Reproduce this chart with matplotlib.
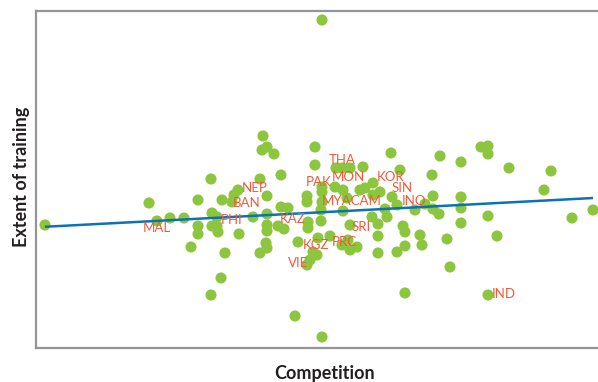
import numpy as np
import matplotlib
matplotlib.use("Agg")
import matplotlib.pyplot as plt

# Country scores: competition (x) vs extent of training (y)
competition = [
    0.9, 11.3, 12.1, 13.4, 14.8, 16.2, 16.2, 16.2, 15.5, 17.5,
    17.6, 18.1, 17.6, 18.1, 18.2, 18.9, 18.5, 17.5, 18.6, 19.6,
    19.8, 20.2, 20.3, 21.7, 22.4, 22.7, 23.1, 22.6, 23.8, 23.1,
    23.1, 23.1, 23.1, 23.0, 23.1, 22.4, 24.5, 24.5, 25.2, 24.2,
    24.8, 26.2, 25.9, 27.1, 27.1, 27.9, 27.9, 28.6, 28.6, 28.6,
    28.5, 28.5, 27.2, 27.2, 28.2, 29.4, 27.7, 28.1, 27.4, 27.1,
    30.6, 28.6, 28.6, 30.0, 30.6, 31.4, 32.7, 35.5, 36.4, 29.9,
    30.7, 32.4, 32.9, 33.7, 34.4, 33.7, 35.6, 31.1, 30.7, 31.4,
    33.6, 34.2, 35.1, 34.9, 34.2, 31.2, 32.1, 31.4, 34.2, 36.1,
    36.9, 38.6, 38.4, 36.9, 36.7, 36.1, 37.9, 38.9, 39.7, 39.7,
    40.3, 39.6, 40.4, 42.5, 42.5, 42.5, 42.5, 41.1, 41.4, 44.5,
    45.2, 45.2, 47.3, 51.5, 50.8, 45.2, 46.1, 53.6, 55.7, 36.9,
    45.2,
]
training = [
    12.3, 14.5, 12.7, 13.0, 13.0, 14.8, 12.2, 11.4, 10.1, 16.9,
    13.5, 13.1, 12.2, 12.2, 11.6, 9.5, 7.0, 5.3, 14.8, 14.6,
    15.3, 15.8, 11.4, 13.1, 16.9, 21.2, 20.1, 19.8, 19.4, 15.2,
    13.4, 12.3, 11.7, 10.5, 10.0, 9.5, 17.3, 14.1, 14.0, 12.2,
    11.9, 10.6, 3.2, 15.2, 14.6, 20.1, 18.3, 16.1, 15.6, 14.6,
    13.8, 12.7, 12.6, 12.0, 11.0, 11.2, 9.6, 9.3, 8.8, 8.3,
    10.3, 32.8, 1.1, 18.0, 18.0, 18.0, 18.1, 19.5, 17.8, 16.1,
    15.8, 15.8, 16.0, 16.5, 15.6, 15.3, 15.1, 15.0, 13.7, 12.3,
    13.1, 12.4, 13.1, 13.9, 11.2, 10.8, 10.1, 9.8, 9.5, 9.6,
    10.2, 10.3, 11.3, 11.6, 12.2, 14.3, 13.8, 14.4, 15.2, 13.9,
    13.4, 17.3, 19.2, 18.6, 15.1, 14.0, 12.5, 10.9, 8.1, 20.1,
    20.2, 19.4, 18.0, 17.7, 15.8, 13.2, 11.2, 13.0, 13.8, 5.5,
    5.3,
]

# Economy codes and where their tags sit
codes = ["THA", "MON", "PAK", "KOR", "SIN", "INO", "MYACAM", "SRI", "PRC",
         "KGZ", "VIE", "KAZ", "PHI", "BAN", "NEP", "MAL", "IND"]
code_x = [30.65, 31.2, 28.3, 35.5, 36.6, 37.8, 31.6, 32.5, 30.8,
          28.0, 26.2, 25.7, 19.6, 21.1, 21.9, 12.1, 46.8]
code_y = [18.8, 17.1, 16.6, 17.1, 16.0, 14.7, 14.7, 12.1, 10.6,
          10.3, 8.5, 12.9, 12.8, 14.5, 16.0, 12.0, 5.4]

GREEN = "#8cc63f"
BLUE = "#0a72b5"
RED = "#f15a3b"
GREY = "#939598"

W, H = 598, 382
fig = plt.figure(figsize=(W / 100, H / 100), dpi=100)
ax = fig.add_axes([36 / W, (H - 348) / H, (614 - 36) / W, (348 - 11) / H])
ax.set_xlim(0, 57.8)
ax.set_ylim(0, 33.7)

x = np.array(competition)
y = np.array(training)
ax.scatter(x, y, s=64, color=GREEN, edgecolors="none", zorder=2, clip_on=False)

# Least-squares trend line across the range of observations
slope, intercept = np.polyfit(x, y, 1)
xs = np.array([x.min(), x.max()])
ax.plot(xs, intercept + slope * xs, color=BLUE, lw=1.8, zorder=3,
        solid_capstyle="butt")

for c, cx, cy in zip(codes, code_x, code_y):
    ax.text(cx, cy, c, color=RED, fontsize=9.5, family="Lato",
            ha="center", va="center", zorder=4)

for side in ("left", "top", "bottom"):
    ax.spines[side].set_color(GREY)
    ax.spines[side].set_linewidth(1.6)
ax.spines["right"].set_visible(False)
ax.set_xticks([])
ax.set_yticks([])

fig.text(325 / W, 1 - 374 / H, "Competition", ha="center", va="center",
         fontsize=13, family="Lato", fontweight="bold", color="#231f20")
fig.text(22 / W, 1 - 177 / H, "Extent of training", ha="center", va="center",
         rotation=90, fontsize=13, family="Lato", fontweight="bold",
         color="#231f20")

fig.savefig("out.png", dpi=100)
